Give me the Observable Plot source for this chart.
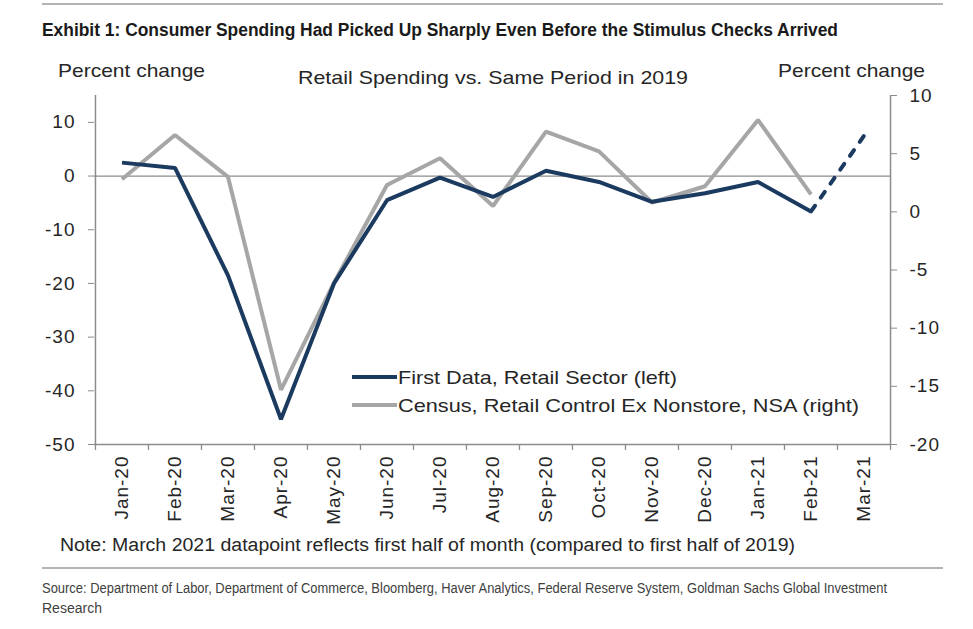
<!DOCTYPE html>
<html>
<head>
<meta charset="utf-8">
<script src="https://cdn.jsdelivr.net/npm/d3@7"></script>
<script src="https://cdn.jsdelivr.net/npm/@observablehq/plot@0.6"></script>
<style>
  html, body { margin: 0; padding: 0; background: #fff; }
  #c { position: relative; width: 973px; height: 629px; overflow: hidden; background: #fff;
       font-family: "Liberation Sans", Arial, sans-serif; color: #262626; }
  #chart { position: absolute; left: 0; top: 0; }
  .t { position: absolute; white-space: nowrap; line-height: 1; transform-origin: 0 0; }
  .rule { position: absolute; height: 0; border-top: 2px solid #b4b4b4; }
  .lg { position: absolute; height: 4px; }
</style>
</head>
<body>
<div id="c">
  <div class="rule" style="left:42px;top:3px;width:901px;"></div>
  <span class="t" id="title" style="left:42px;top:21px;font-size:18px;font-weight:bold;color:#1a1a1a;">Exhibit 1: Consumer Spending Had Picked Up Sharply Even Before the Stimulus Checks Arrived</span>
  <div id="chart"></div>
  <span class="t" id="pcl" style="left:58px;top:61px;font-size:19px;">Percent change</span>
  <span class="t" id="sub" style="left:298px;top:68px;font-size:19px;">Retail Spending vs. Same Period in 2019</span>
  <span class="t" id="pcr" style="left:778px;top:61px;font-size:19px;">Percent change</span>
  <div class="lg" style="left:352px;top:375px;width:45px;background:#1b3a5f;"></div>
  <div class="lg" style="left:352px;top:403px;width:45px;background:#a6a6a6;"></div>
  <span class="t" id="lg1" style="left:398px;top:368px;font-size:19px;">First Data, Retail Sector (left)</span>
  <span class="t" id="lg2" style="left:398px;top:396px;font-size:19px;">Census, Retail Control Ex Nonstore, NSA (right)</span>
  <span class="t" id="note" style="left:60px;top:536px;font-size:18px;">Note: March 2021 datapoint reflects first half of month (compared to first half of 2019)</span>
  <div class="rule" style="left:42px;top:567px;width:901px;"></div>
  <span class="t" id="src1" style="left:42px;top:581px;font-size:14px;color:#404040;">Source: Department of Labor, Department of Commerce, Bloomberg, Haver Analytics, Federal Reserve System, Goldman Sachs Global Investment</span>
  <span class="t" id="src2" style="left:42px;top:601px;font-size:14px;color:#404040;">Research</span>
</div>
<script>
// ---- Data ----
const months = ["Jan-20","Feb-20","Mar-20","Apr-20","May-20","Jun-20","Jul-20","Aug-20","Sep-20","Oct-20","Nov-20","Dec-20","Jan-21","Feb-21","Mar-21"];
// First Data, Retail Sector (left axis), % vs same period 2019
const firstData = [2.5, 1.5, -18.5, -45.3, -20.0, -4.5, -0.3, -3.9, 1.0, -1.1, -4.8, -3.2, -1.1, -6.6, 7.5];
// Census, Retail Control Ex Nonstore, NSA (right axis)
const census = [2.8, 6.6, 3.0, -15.3, -6.1, 2.3, 4.6, 0.5, 6.9, 5.2, 0.8, 2.2, 7.9, 1.5];
const leftTicks = [-50, -40, -30, -20, -10, 0, 10];
const rightTicks = [-20, -15, -10, -5, 0, 5, 10];
const leftDomain = [-50, 15];
const rightDomain = [-20, 10];

// map right-axis values onto the left-axis scale
const toLeft = v => leftDomain[0] + (v - rightDomain[0]) * (leftDomain[1] - leftDomain[0]) / (rightDomain[1] - rightDomain[0]);
const toRight = v => rightDomain[0] + (v - leftDomain[0]) * (rightDomain[1] - rightDomain[0]) / (leftDomain[1] - leftDomain[0]);

const solidFD = firstData.slice(0, 14).map((v, i) => ({m: months[i], v}));
const dashFD = [13, 14].map(i => ({m: months[i], v: firstData[i]}));
const censusRows = census.map((v, i) => ({m: months[i], v: toLeft(v)}));

const W = 973, H = 540, mL = 94, mR = 83, mT = 95, mB = 96;
const bw = (W - mL - mR) / months.length;
const ppu = (H - mT - mB) / (leftDomain[1] - leftDomain[0]);
const tickLen = 6 / ppu;
const axisColor = "#8c8c8c";
const navy = "#1b3a5f", grey = "#a6a6a6";

const chart = Plot.plot({
  width: W, height: H,
  marginLeft: mL, marginRight: mR, marginTop: mT, marginBottom: mB,
  x: {type: "band", domain: months, padding: 0, axis: null, label: null},
  y: {domain: leftDomain, axis: null, label: null},
  style: {fontFamily: "Liberation Sans, Arial, sans-serif", fontSize: "19px", color: "#262626", background: "transparent", overflow: "visible", letterSpacing: "1px"},
  marks: [
    Plot.ruleY([0], {stroke: axisColor, strokeWidth: 1.3}),
    Plot.ruleY([leftDomain[0]], {stroke: axisColor, strokeWidth: 1.5}),
    Plot.ruleX([months[0]], {dx: -bw / 2, y1: leftDomain[0], y2: leftDomain[1], stroke: axisColor, strokeWidth: 1.5}),
    Plot.ruleX([months[months.length - 1]], {dx: bw / 2, y1: leftDomain[0], y2: leftDomain[1], stroke: axisColor, strokeWidth: 1.5}),
    Plot.ruleX(months, {dx: -bw / 2, y1: leftDomain[0], y2: leftDomain[0] - tickLen, stroke: axisColor, strokeWidth: 1.3}),
    Plot.ruleX([months[months.length - 1]], {dx: bw / 2, y1: leftDomain[0], y2: leftDomain[0] - tickLen, stroke: axisColor, strokeWidth: 1.3}),
    Plot.axisY({anchor: "left", label: null, ticks: leftTicks, tickSize: 6, tickPadding: 13, tickFormat: d => String(d), stroke: axisColor, fill: "#262626", fontSize: 19}),
    Plot.axisY({anchor: "right", label: null, ticks: rightTicks.map(toLeft), tickSize: 6, tickPadding: 13, tickFormat: d => String(Math.round(toRight(d))), stroke: axisColor, fill: "#262626", fontSize: 19}),
    Plot.axisX({anchor: "bottom", label: null, tickSize: 0, tickPadding: 11, tickRotate: -90, fontSize: 19, fill: "#262626"}),
    Plot.line(censusRows, {x: "m", y: "v", stroke: grey, strokeWidth: 4, strokeLinejoin: "miter", strokeLinecap: "butt"}),
    Plot.line(solidFD, {x: "m", y: "v", stroke: navy, strokeWidth: 4, strokeLinejoin: "miter", strokeLinecap: "butt"}),
    Plot.line(dashFD, {x: "m", y: "v", stroke: navy, strokeWidth: 4, strokeDasharray: "7,10", strokeLinecap: "round"})
  ]
});
document.getElementById("chart").appendChild(chart);

function fit(id, w) {
  const el = document.getElementById(id);
  el.style.transform = "none";
  const r = el.getBoundingClientRect().width;
  if (r > 0) el.style.transform = `scaleX(${w / r})`;
}
function fitAll() {
  fit("title", 796);
  fit("pcl", 147);
  fit("pcr", 147);
  fit("sub", 390);
  fit("lg1", 279);
  fit("lg2", 461);
  fit("note", 735);
  fit("src1", 845);
}
fitAll();
if (document.fonts && document.fonts.ready) document.fonts.ready.then(fitAll);
</script>
</body>
</html>
